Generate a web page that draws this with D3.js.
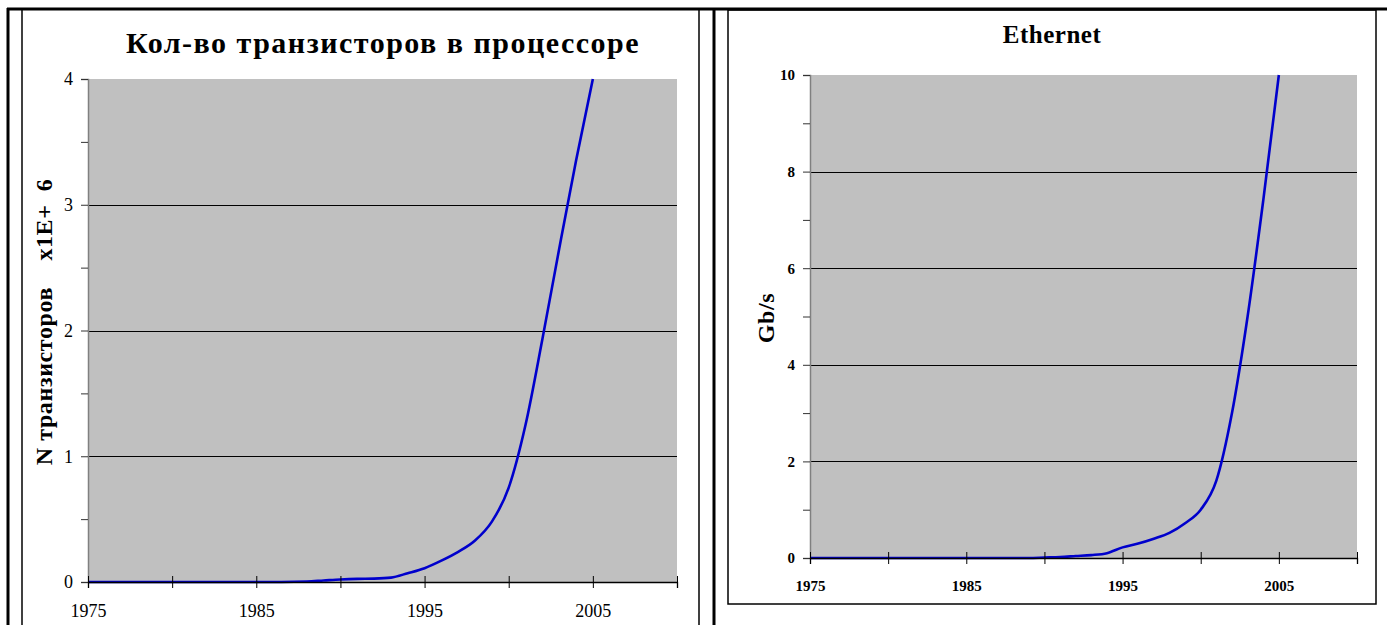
<!DOCTYPE html>
<html>
<head>
<meta charset="utf-8">
<script src="https://cdn.jsdelivr.net/npm/d3@7"></script>
<style>
  html, body { margin: 0; padding: 0; background: #fff; }
  svg { display: block; }
  text { font-family: "Liberation Serif", "Times New Roman", serif; fill: #000; }
</style>
</head>
<body>
<svg id="chart" width="1387" height="625"></svg>
<script>
// Transistor count per processor, millions
const cpuYears = [1975, 1980, 1985, 1988, 1989, 1990, 1991, 1992, 1993, 1994, 1995, 1996, 1997, 1998, 1999, 2000, 2001, 2002, 2003, 2004, 2005];
const cpuTransistors = [0, 0, 0, 0.004, 0.012, 0.02, 0.025, 0.027, 0.035, 0.07, 0.11, 0.17, 0.24, 0.33, 0.48, 0.75, 1.25, 1.93, 2.65, 3.35, 4.0];

// Ethernet speed, Gb/s
const netYears = [1975, 1980, 1985, 1989, 1990, 1991, 1992, 1993, 1994, 1995, 1996, 1997, 1998, 1999, 2000, 2001, 2002, 2003, 2004, 2005];
const netSpeed = [0, 0, 0, 0, 0.01, 0.02, 0.04, 0.06, 0.1, 0.22, 0.3, 0.4, 0.52, 0.72, 1.0, 1.6, 3.0, 5.0, 7.4, 10];

const xTicks = [1975, 1980, 1985, 1990, 1995, 2000, 2005, 2010];
const xLabels = [1975, 1985, 1995, 2005];
const cpuMajor = [0, 1, 2, 3, 4];
const cpuMinor = [0.5, 1.5, 2.5, 3.5];
const netMajor = [0, 2, 4, 6, 8, 10];
const netMinor = [1, 3, 5, 7, 9];

const svg = d3.select("#chart");

// Table frame around the two cells
const frame = svg.append("g").attr("stroke", "#000").attr("fill", "none");
frame.append("line").attr("x1", 7).attr("x2", 1387).attr("y1", 9).attr("y2", 9).attr("stroke-width", 3);
frame.append("line").attr("x1", 8).attr("x2", 8).attr("y1", 8).attr("y2", 625).attr("stroke-width", 3);
frame.append("line").attr("x1", 714).attr("x2", 714).attr("y1", 8).attr("y2", 625).attr("stroke-width", 3);
// Chart-area borders
frame.append("line").attr("x1", 22).attr("x2", 22).attr("y1", 10).attr("y2", 625).attr("stroke-width", 1.5);
frame.append("line").attr("x1", 699).attr("x2", 699).attr("y1", 10).attr("y2", 625).attr("stroke-width", 1.5);
frame.append("rect").attr("x", 728).attr("y", 10).attr("width", 648).attr("height", 594).attr("stroke-width", 1.5);

function drawPanel(cfg) {
  const g = svg.append("g");
  const x = d3.scaleLinear().domain([1975, 2010]).range([cfg.left, cfg.right]);
  const y = d3.scaleLinear().domain([0, cfg.yMax]).range([cfg.bottom, cfg.top]);

  // plot background
  g.append("rect")
    .attr("x", x(1975)).attr("y", y(cfg.yMax))
    .attr("width", x(2010) - x(1975)).attr("height", y(0) - y(cfg.yMax))
    .attr("fill", "#c0c0c0");

  // horizontal gridlines
  g.append("g").selectAll("line")
    .data(cfg.major.filter(v => v > 0 && v < cfg.yMax))
    .join("line")
    .attr("x1", x(1975)).attr("x2", x(2010))
    .attr("y1", d => Math.round(y(d)) + 0.5).attr("y2", d => Math.round(y(d)) + 0.5)
    .attr("stroke", "#000").attr("stroke-width", 1);

  // y axis: major ticks with labels, minor ticks without
  const yAxis = g.append("g")
    .attr("transform", `translate(${x(1975)},0)`)
    .call(d3.axisLeft(y).tickValues(cfg.major).tickSize(7).tickPadding(8).tickFormat(d3.format("d")));
  g.append("g")
    .attr("transform", `translate(${x(1975)},0)`)
    .call(d3.axisLeft(y).tickValues(cfg.minor).tickSize(7).tickFormat(""))
    .call(a => a.select(".domain").remove())
    .selectAll("line").attr("stroke", "#333");
  yAxis.select(".domain").attr("stroke", "#808080").attr("stroke-width", 1.5);
  yAxis.selectAll("line").attr("stroke", "#333");
  yAxis.selectAll("text")
    .style("font-family", "Liberation Serif, serif")
    .style("font-size", cfg.tickSize + "px")
    .style("font-weight", cfg.tickWeight);

  // series line
  const line = d3.line()
    .x((d, i) => x(cfg.xs[i]))
    .y(d => y(d))
    .curve(d3.curveMonotoneX);
  g.append("path")
    .datum(cfg.ys)
    .attr("d", line)
    .attr("fill", "none")
    .attr("stroke", "#0000cc")
    .attr("stroke-width", 2.6)
    .attr("stroke-linejoin", "round");

  // x axis with ticks crossing the axis line
  const xAxis = g.append("g")
    .attr("transform", `translate(0,${y(0)})`)
    .call(d3.axisBottom(x).tickValues(xTicks).tickSize(6).tickPadding(cfg.xPad)
      .tickFormat(d => xLabels.includes(d) ? String(d) : ""));
  xAxis.select(".domain").attr("stroke", "#000").attr("stroke-width", 1.3);
  xAxis.selectAll(".tick line").attr("y1", -6).attr("stroke", "#000");
  xAxis.selectAll("text")
    .style("font-family", "Liberation Serif, serif")
    .style("font-size", cfg.tickSize + "px")
    .style("font-weight", cfg.tickWeight);

  // chart title
  svg.append("text")
    .attr("x", cfg.titleX).attr("y", cfg.titleY)
    .attr("text-anchor", "middle")
    .style("font-size", cfg.titleSize + "px")
    .style("font-weight", "bold")
    .style("letter-spacing", cfg.titleSpacing + "px")
    .text(cfg.title);

  // y axis title
  svg.append("text")
    .attr("transform", `translate(${cfg.yTitleX},${cfg.yTitleY}) rotate(-90)`)
    .attr("text-anchor", "middle")
    .style("font-size", cfg.yTitleSize + "px")
    .style("font-weight", "bold")
    .style("letter-spacing", "0.6px")
    .style("white-space", "pre")
    .text(cfg.yTitle);
}

drawPanel({
  left: 88, right: 677, top: 79, bottom: 582, yMax: 4,
  major: cpuMajor, minor: cpuMinor,
  xs: cpuYears, ys: cpuTransistors,
  tickSize: 18, tickWeight: "normal", xPad: 16,
  title: "Кол-во транзисторов в процессоре", titleX: 383, titleY: 53, titleSize: 30, titleSpacing: 1.5,
  yTitle: "N транзисторов    x1E+  6", yTitleX: 52, yTitleY: 322, yTitleSize: 24
});

drawPanel({
  left: 810, right: 1357, top: 75, bottom: 558, yMax: 10,
  major: netMajor, minor: netMinor,
  xs: netYears, ys: netSpeed,
  tickSize: 15, tickWeight: "bold", xPad: 16,
  title: "Ethernet", titleX: 1052, titleY: 43, titleSize: 25, titleSpacing: 0.5,
  yTitle: "Gb/s", yTitleX: 774, yTitleY: 318, yTitleSize: 24
});
</script>
</body>
</html>
